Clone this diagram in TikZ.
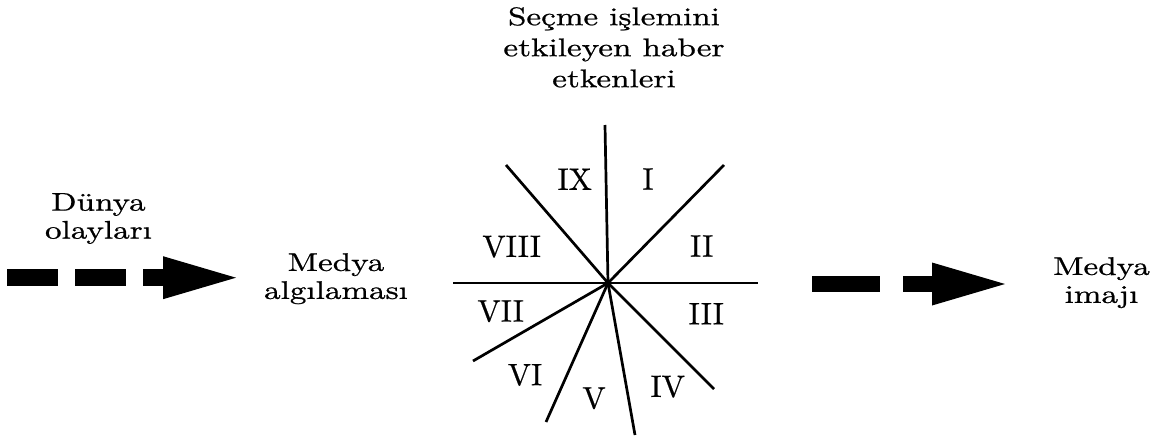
\documentclass[tikz,border=0pt]{standalone}
\usepackage{fontspec}
\setmainfont{lmroman10-regular.otf}[FakeStretch=1.3,FakeBold=0.8]
\newfontfamily\numfont{lmroman10-regular.otf}[FakeBold=0.5]
\usetikzlibrary{arrows.meta}
\begin{document}
\begin{tikzpicture}[x=1pt,y=-1pt,
  lbl/.style={font=\fontsize{25.5}{28}\selectfont, align=center, inner sep=0pt, anchor=north},
  num/.style={font=\numfont\fontsize{31}{31}\selectfont, inner sep=0pt},
  ray/.style={line width=2.7pt},
  bigarrow/.style={line width=16.5pt, -{Triangle[length=73pt,width=43pt,line width=0pt]}}]
\useasboundingbox (0,0) rectangle (1168,437);
% texts
\node[lbl, font=\fontsize{25.5}{31}\selectfont] (title) at (614,7) {Seçme işlemini\\etkileyen haber\\etkenleri};
\node[lbl] (dunya) at (98.5,193) {Dünya\\olayları};
\node[lbl] (algi) at (336,253) {Medya\\algılaması};
\node[lbl] (imaj) at (1101.5,257) {Medya\\imajı};
% star
\coordinate (c) at (608,283);
\coordinate (rN) at (605,125);
\coordinate (rNE) at (724,165);
\coordinate (rNW) at (506,165);
\coordinate (rE) at (758,283);
\coordinate (rW) at (453,283);
\coordinate (rWSW) at (473,361);
\coordinate (rSSW) at (546,422);
\coordinate (rS) at (635,435);
\coordinate (rSE) at (714,389);
\foreach \r in {rN,rNE,rNW,rE,rW,rWSW,rSSW,rS,rSE}
  \draw[ray] (c) -- (\r);
% numerals
\node[num] (nIX) at (574.7,179.3) {IX};
\node[num] (nI) at (648,179) {I};
\node[num] (nVIII) at (511.7,246.7) {VIII};
\node[num] (nII) at (701.7,246) {II};
\node[num] (nVII) at (500.7,311.3) {VII};
\node[num] (nIII) at (706.3,313.7) {III};
\node[num] (nVI) at (525,375) {VI};
\node[num] (nV) at (594,398.3) {V};
\node[num] (nIV) at (667.7,386.7) {IV};
% arrows
\coordinate (l0) at (7,277.7);
\coordinate (l1) at (236,277.7);
\draw[bigarrow, dash pattern=on 51pt off 17pt] (l0) -- (l1);
\coordinate (r0) at (812,284);
\coordinate (r1) at (1005,284);
\draw[bigarrow, dash pattern=on 68pt off 23pt] (r0) -- (r1);
\end{tikzpicture}
\end{document}
